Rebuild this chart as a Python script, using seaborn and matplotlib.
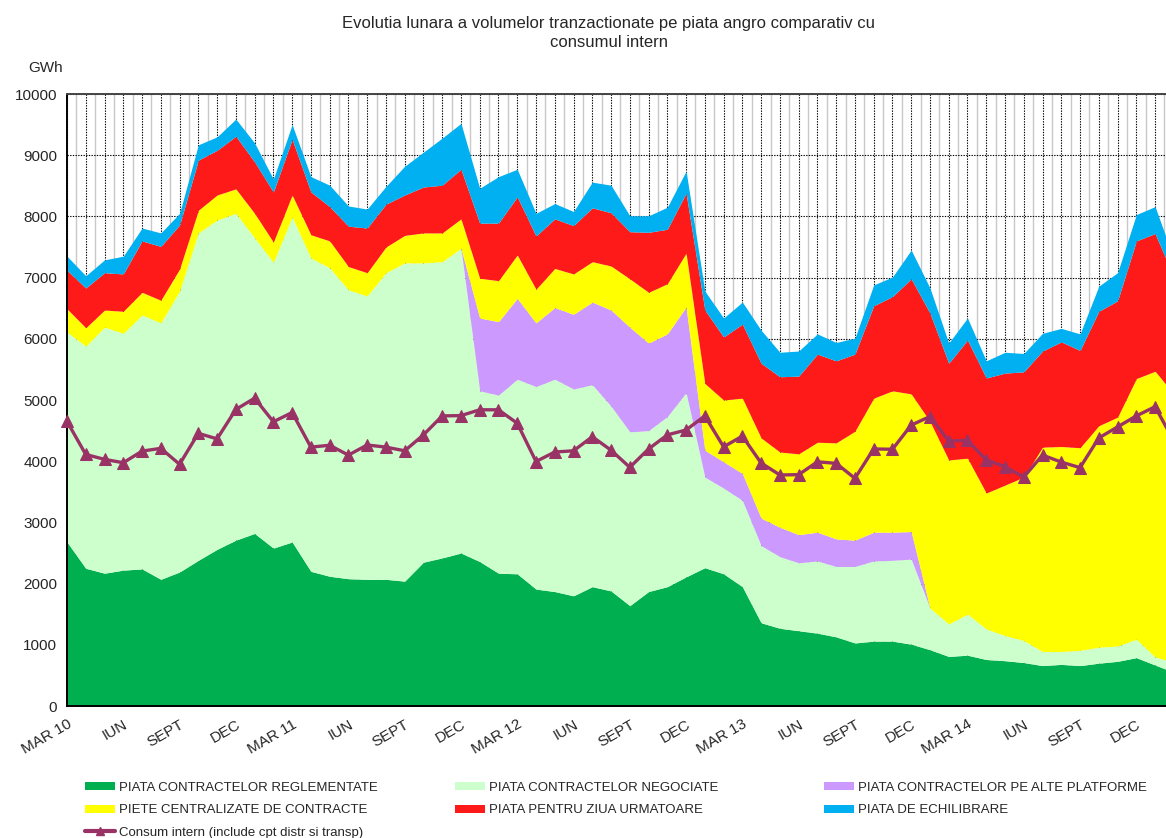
import matplotlib
matplotlib.use("Agg")
import matplotlib.pyplot as plt
import numpy as np
import pandas as pd
import seaborn as sns
from matplotlib.lines import Line2D
from matplotlib.patches import Patch

# monthly values, MAR 2010 .. FEB 2015 (GWh)
reglementate = [2680, 2250, 2170, 2220, 2240, 2070, 2190, 2380, 2560, 2710,
                2820, 2580, 2680, 2200, 2120, 2080, 2070, 2070, 2040, 2350,
                2420, 2500, 2360, 2170, 2160, 1910, 1870, 1800, 1950, 1880,
                1640, 1870, 1950, 2110, 2260, 2160, 1950, 1360, 1270, 1230,
                1190, 1130, 1030, 1060, 1060, 1010, 920, 810, 830, 760,
                740, 710, 660, 680, 660, 700, 730, 790, 670, 550]
negociate = [3430, 3630, 4020, 3870, 4150, 4190, 4590, 5350, 5380, 5340,
             4830, 4670, 5310, 5120, 5040, 4720, 4630, 5010, 5200, 4890,
             4840, 4980, 2790, 2910, 3180, 3310, 3470, 3380, 3300, 3020,
             2840, 2630, 2780, 3010, 1480, 1400, 1410, 1260, 1170, 1110,
             1180, 1150, 1250, 1310, 1320, 1390, 680, 530, 670, 500,
             410, 360, 230, 210, 250, 260, 250, 300, 130, 165]
alte_platforme = [0, 0, 0, 0, 0, 0, 0, 0, 0, 0,
                  0, 0, 0, 0, 0, 0, 0, 0, 0, 0,
                  0, 0, 1190, 1200, 1320, 1040, 1170, 1220, 1350, 1570,
                  1710, 1430, 1350, 1400, 440, 430, 440, 450, 480, 460,
                  470, 450, 430, 470, 460, 450, 0, 0, 0, 0,
                  0, 0, 0, 0, 0, 0, 0, 0, 0, 0]
centralizate = [380, 300, 280, 360, 370, 370, 360, 370, 410, 400,
                400, 330, 360, 380, 440, 380, 380, 420, 450, 490,
                470, 480, 650, 670, 710, 550, 640, 660, 660, 720,
                790, 830, 820, 880, 1090, 1010, 1230, 1310, 1230, 1320,
                1470, 1570, 1780, 2190, 2310, 2250, 3050, 2680, 2550, 2220,
                2460, 2670, 3340, 3350, 3310, 3620, 3740, 4260, 4670, 4385]
ziua_urmatoare = [630, 650, 610, 610, 840, 880, 720, 820, 730, 860,
                  840, 820, 910, 700, 560, 660, 730, 700, 660, 750,
                  780, 810, 900, 940, 950, 870, 810, 790, 880, 870,
                  770, 980, 890, 980, 1200, 1030, 1210, 1220, 1230, 1270,
                  1440, 1340, 1260, 1510, 1540, 1880, 1770, 1580, 1930, 1880,
                  1830, 1720, 1570, 1710, 1590, 1870, 1900, 2250, 2250, 1910]
echilibrare = [230, 200, 210, 290, 210, 220, 190, 250, 220, 280,
               310, 210, 240, 250, 350, 330, 310, 290, 470, 570,
               770, 750, 570, 760, 450, 370, 250, 230, 420, 450,
               260, 270, 360, 360, 310, 310, 360, 540, 400, 410,
               330, 300, 260, 340, 320, 470, 410, 330, 360, 280,
               340, 300, 290, 220, 270, 410, 460, 430, 440, 300]
consum = [4650, 4110, 4030, 3975, 4165, 4210, 3950, 4455, 4365, 4845,
          5030, 4645, 4795, 4230, 4260, 4100, 4265, 4230, 4170, 4430,
          4740, 4745, 4840, 4840, 4620, 3995, 4150, 4170, 4400, 4180,
          3900, 4200, 4430, 4510, 4740, 4235, 4410, 3970, 3775, 3780,
          3990, 3965, 3720, 4200, 4195, 4590, 4730, 4330, 4340, 4020,
          3910, 3740, 4100, 3985, 3895, 4380, 4560, 4740, 4890, 4330]

tick_labels = ["MAR 10", "IUN", "SEPT", "DEC", "MAR 11", "IUN", "SEPT", "DEC",
               "MAR 12", "IUN", "SEPT", "DEC", "MAR 13", "IUN", "SEPT", "DEC",
               "MAR 14", "IUN", "SEPT", "DEC"]

series_names = ["PIATA CONTRACTELOR REGLEMENTATE",
                "PIATA CONTRACTELOR NEGOCIATE",
                "PIATA CONTRACTELOR PE ALTE PLATFORME",
                "PIETE CENTRALIZATE DE CONTRACTE",
                "PIATA PENTRU ZIUA URMATOARE",
                "PIATA DE ECHILIBRARE"]
consum_name = "Consum intern (include cpt distr si transp)"
colors = ["#00b050", "#ccffcc", "#cc99ff", "#ffff00", "#ff1a1a", "#00b0f0"]
consum_color = "#993366"

df = pd.DataFrame({
    "luna": np.arange(len(consum)),
    series_names[0]: reglementate,
    series_names[1]: negociate,
    series_names[2]: alte_platforme,
    series_names[3]: centralizate,
    series_names[4]: ziua_urmatoare,
    series_names[5]: echilibrare,
    "consum": consum,
})

sns.set_style("white")
plt.rcParams["font.family"] = ["Liberation Sans", "DejaVu Sans"]

W, H = 1166, 838
fig = plt.figure(figsize=(W / 100, H / 100), dpi=100)
ax = fig.add_axes([67 / W, 1 - 706 / H, 1 - 67 / W, (706 - 94) / H])

ax.stackplot(df["luna"], df[series_names].T.values, colors=colors,
             linewidth=0, zorder=2)
sns.lineplot(data=df, x="luna", y="consum", ax=ax, color=consum_color,
             marker="^", markersize=9, markeredgecolor=consum_color,
             linewidth=2.4, legend=False, zorder=5, clip_on=False)

n = len(consum)
ax.set_yticks(range(0, 10001, 1000))
ax.set_xticks(np.arange(n))
ax.set_xticks(np.arange(n) + 0.5, minor=True)
labels = [""] * n
for i, lab in enumerate(tick_labels):
    labels[i * 3] = lab
ax.set_xticklabels(labels, rotation=30, ha="right", rotation_mode="anchor",
                   fontsize=11)
# the reference is cut off just after the Jan 2015 point
ax.set_xlim(0, (W - 67) / 18.76)
ax.set_ylim(0, 10000)
ax.tick_params(axis="x", which="major", direction="out", length=4, width=1,
               color="black", pad=4)
ax.tick_params(axis="x", which="minor", length=0)
ax.tick_params(axis="y", direction="out", length=4, width=1, color="black",
               labelsize=11, pad=3)
ax.set_xlabel("")
ax.set_ylabel("")

ax.set_axisbelow(True)
ax.grid(which="major", axis="both", color="black", linestyle=(0, (1.2, 1.2)),
        linewidth=0.8)
ax.grid(which="minor", axis="x", color="#c8c8c8", linestyle="-", linewidth=1)

for side in ["left", "bottom"]:
    ax.spines[side].set_color("black")
    ax.spines[side].set_linewidth(1.4)
ax.spines["top"].set_color("#444444")
ax.spines["top"].set_linewidth(1.4)
ax.spines["right"].set_visible(False)

fig.text(609 / W, 1 - 33 / H,
         "Evolutia lunara a volumelor tranzactionate pe piata angro comparativ cu\nconsumul intern",
         ha="center", va="center", fontsize=12, linespacing=1.35)
fig.text(46 / W, 1 - 68 / H, "GWh", ha="center", va="center", fontsize=11)

patches = [Patch(facecolor=c, edgecolor="none") for c in colors]
consum_handle = Line2D([], [], color=consum_color, linewidth=3, marker="^",
                       markersize=6, markeredgecolor=consum_color)
columns = [
    ([patches[0], patches[3], consum_handle],
     [series_names[0], series_names[3], consum_name], 85),
    ([patches[1], patches[4]], [series_names[1], series_names[4]], 455),
    ([patches[2], patches[5]], [series_names[2], series_names[5]], 824),
]
for handles, names, x0 in columns:
    fig.legend(handles, names, loc="upper left",
               bbox_to_anchor=(x0 / W, 1 - 782 / H), frameon=False,
               fontsize=9.5, borderpad=0, borderaxespad=0,
               handlelength=2.3, handleheight=0.55, handletextpad=0.3,
               labelspacing=0.78)

fig.savefig("out.png", dpi=100)
